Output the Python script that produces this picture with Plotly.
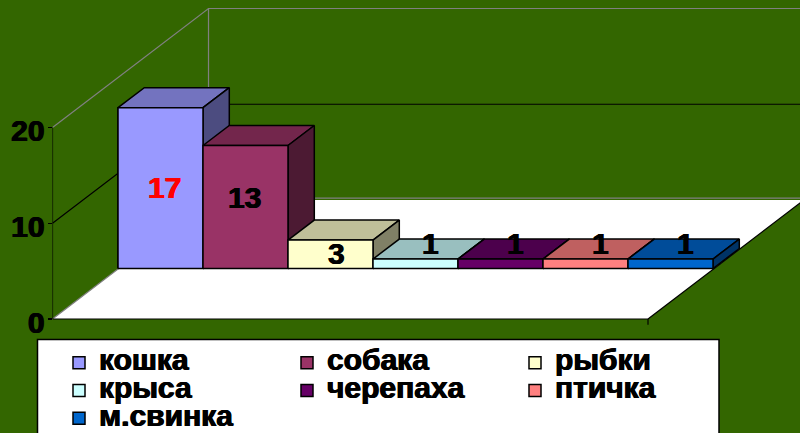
import plotly.graph_objects as go

# --- data ---
categories = ["кошка", "собака", "рыбки", "крыса", "черепаха", "птичка", "м.свинка"]
values = [17, 13, 3, 1, 1, 1, 1]
value_ticks = [0, 10, 20]
front_colors = ["#9999FF", "#993366", "#FFFFCC", "#CCFFFF", "#660066", "#FF8080", "#0066CC"]
label_colors = ["#FF0000", "#000000", "#000000", "#000000", "#000000", "#000000", "#000000"]
label_dx = [4, -1, 6, 15, 15, 15, 15]
label_dy = [-80, -52, -13, 16, 16, 16, 16]

# --- style / projection constants ---
W, H = 800, 433
BG = "#336600"
FONT = "Liberation Sans"
AX_LEFT_PX, ZERO_PX, UNIT_PX, CAT_PX, FIRST_CENTER_PX = 52.5, 319.0, 9.575, 85.0, 160.5
PERSPECTIVE = 0.988           # bars sit deeper than the value axis
BAR_BASE = 50.5 / UNIT_PX     # bars stand part-way back on the floor
WALL_DX, WALL_DY = 156 / CAT_PX, 119 / UNIT_PX
BAR_DX, BAR_DY = 26.3 / CAT_PX, 20 / UNIT_PX
X_MIN = (AX_LEFT_PX - FIRST_CENTER_PX) / CAT_PX
X_MAX = (W - FIRST_CENTER_PX) / CAT_PX
Y_MIN = (ZERO_PX - H) / UNIT_PX
Y_MAX = ZERO_PX / UNIT_PX
X_RIGHT = (648 - FIRST_CENTER_PX) / CAT_PX
HEAVY = "0.6px 0 0 {c}, -0.6px 0 0 {c}"


def shade(hex_color, k):
    r, g, b = (int(hex_color[i:i + 2], 16) for i in (1, 3, 5))
    return f"rgb({r * k:.0f},{g * k:.0f},{b * k:.0f})"


def poly(xs, ys, fill, line="#000000", width=1.5):
    return go.Scatter(
        x=list(xs) + [xs[0]], y=list(ys) + [ys[0]], mode="lines", fill="toself",
        fillcolor=fill, line=dict(color=line, width=width), showlegend=False,
        hoverinfo="skip",
    )


def seg(xs, ys, color, width=1.2):
    return go.Scatter(x=xs, y=ys, mode="lines", line=dict(color=color, width=width),
                      showlegend=False, hoverinfo="skip")


fig = go.Figure()

# legend carriers: real bars (covered by the 3-D faces below)
for i, (name, v, c) in enumerate(zip(categories, values, front_colors)):
    fig.add_trace(go.Bar(
        x=[i], y=[v * PERSPECTIVE], base=BAR_BASE, width=1,
        name=f'<span style="font-size:30px">{name}</span>',
        marker=dict(color=c, line=dict(color="#000000", width=1.5)),
        hoverinfo="skip",
    ))

# floor
far = X_MAX + 2
fig.add_trace(poly([X_MIN, X_RIGHT, X_RIGHT + WALL_DX, X_MIN + WALL_DX],
                   [0, 0, WALL_DY, WALL_DY], "#FFFFFF", line="rgba(0,0,0,0)", width=0))
fig.add_trace(seg([X_MIN + WALL_DX, far], [WALL_DY + 0.2, WALL_DY + 0.2], "#808080"))
fig.add_trace(seg([X_MIN, X_MIN + WALL_DX], [0, WALL_DY], "#808080"))
fig.add_trace(seg([X_RIGHT, X_RIGHT + WALL_DX], [0, WALL_DY], "#000000"))
fig.add_trace(seg([X_RIGHT, X_RIGHT], [0, -0.6], "#000000"))

# walls: gridlines at each tick, value axis line and floor front edge
top = value_ticks[-1]
fig.add_trace(seg([X_MIN, X_MIN + WALL_DX, far], [top, top + WALL_DY, top + WALL_DY], "#808080"))
fig.add_trace(seg([X_MIN + WALL_DX, X_MIN + WALL_DX], [top + WALL_DY, WALL_DY], "#808080"))
for t in value_ticks[1:-1]:
    fig.add_trace(seg([X_MIN, X_MIN + WALL_DX, far], [t, t + WALL_DY, t + WALL_DY], "#000000"))
fig.add_trace(seg([X_MIN, X_MIN], [0, top], "#000000"))
fig.add_trace(seg([X_MIN, X_RIGHT], [0, 0], "#000000"))

# bars as projected boxes
for i, (v, c) in enumerate(zip(values, front_colors)):
    l, r = i - 0.5, i + 0.5
    b, t = BAR_BASE, BAR_BASE + v * PERSPECTIVE
    fig.add_trace(poly([l, r, r + BAR_DX, l + BAR_DX], [t, t, t + BAR_DY, t + BAR_DY], shade(c, 0.75)))
    fig.add_trace(poly([r, r + BAR_DX, r + BAR_DX, r], [b, b + BAR_DY, t + BAR_DY, t], shade(c, 0.5)))
    fig.add_trace(poly([l, r, r, l], [b, b, t, t], c))

# value labels
for i, v in enumerate(values):
    fig.add_annotation(
        x=i, y=BAR_BASE + v * PERSPECTIVE, xref="x", yref="y", text=str(v), showarrow=False,
        xshift=label_dx[i], yshift=label_dy[i],
        font=dict(family=FONT, size=30, color=label_colors[i], weight=700,
                  shadow=HEAVY.format(c=label_colors[i])),
    )

fig.update_layout(
    width=W, height=H, autosize=False,
    paper_bgcolor=BG, plot_bgcolor=BG,
    margin=dict(l=0, r=0, t=0, b=0, autoexpand=False),
    barmode="overlay",
    xaxis=dict(domain=[AX_LEFT_PX / W, 1], range=[X_MIN, X_MAX], visible=False, fixedrange=True),
    yaxis=dict(
        range=[Y_MIN, Y_MAX], tickmode="array", tickvals=value_ticks,
        ticktext=[str(t) for t in value_ticks],
        ticks="outside", ticklen=4, tickwidth=1.2, tickcolor="#000000",
        showgrid=False, zeroline=False, showline=False, fixedrange=True,
        automargin=False, ticklabelstandoff=-3, ticklabelshift=3,
        tickfont=dict(family=FONT, size=30, color="#000000", weight=700,
                      shadow=HEAVY.format(c="#000000")),
    ),
    legend=dict(
        orientation="h", x=59 / W, y=1 - 344 / H, xanchor="left", yanchor="top",
        bgcolor="rgba(0,0,0,0)", borderwidth=0,
        font=dict(family=FONT, size=19, color="#000000", weight=700,
                  shadow=HEAVY.format(c="#000000")),
        entrywidth=183, entrywidthmode="pixels", traceorder="normal",
        itemwidth=30,
    ),
    shapes=[dict(type="rect", xref="paper", yref="paper",
                 x0=37.5 / W, x1=719 / W, y0=-0.05, y1=1 - 339.5 / H,
                 fillcolor="#FFFFFF", line=dict(color="#000000", width=1.5))],
)

# the page sits flush with the window, as the reference does
fig.write_html(
    "out.html",
    config=dict(displayModeBar=False, staticPlot=True),
    post_script="document.body.style.margin='0';document.body.style.overflow='hidden';"
                "document.body.style.background='#336600';",
)
